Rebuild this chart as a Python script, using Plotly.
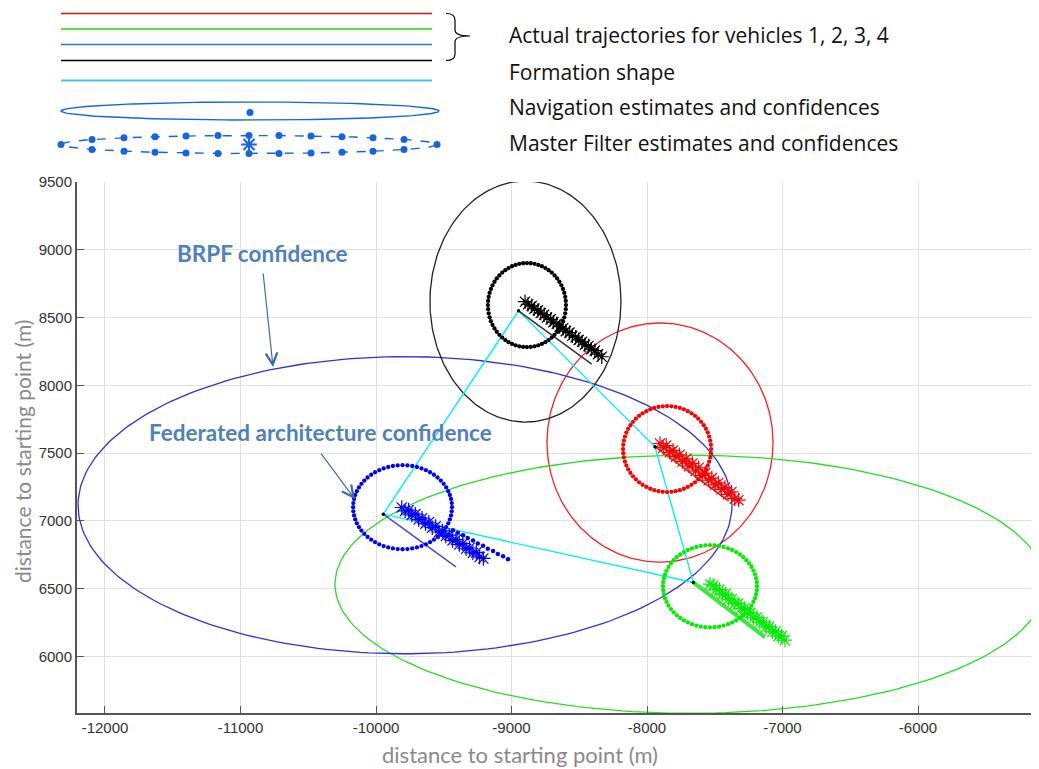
import numpy as np
import plotly.graph_objects as go

# reference image size and browser body offset (default 8px page margin)
W, H = 1039, 769
OFF = 8
WF, HF = W - OFF, H - OFF  # figure size so that the plot lands where the reference has it

# ---------------- data ----------------
x_ticks = [-12000, -11000, -10000, -9000, -8000, -7000, -6000]
x_tick_text = ["-12000", "-11000", "-10000", "-9000", "-8000", "-7000", "-6000"]
y_ticks = [6000, 6500, 7000, 7500, 8000, 8500, 9000, 9500]
y_tick_text = ["6000", "6500", "7000", "7500", "8000", "8500", "9000", "9500"]

vehicle_names = ["vehicle 1", "vehicle 2", "vehicle 3", "vehicle 4"]  # red, green, blue, black

# formation shape (navigation start points), closed polygon
form_x = [-9946, -8948, -7941, -7658, -9946]
form_y = [7050, 8550, 7547, 6546, 7050]

# actual trajectories (start, end)
traj_x = [[-7941, -7406], [-7658, -7129], [-9946, -9410], [-8948, -8408]]
traj_y = [[7547, 7153], [6546, 6142], [7050, 6661], [8550, 8157]]

# big confidence ellipses (BRPF / navigation): centre and semi-axes
big_cx = [-7904, -7683, -9786, -8897]
big_cy = [7578, 6533, 7116, 8618]
big_a = [834, 2620, 2413, 705]
big_b = [882, 952, 1096, 889]

# federated (master filter) confidence: centre and semi-axes
small_cx = [-7852, -7535, -9804, -8886]
small_cy = [7530, 6518, 7101, 8592]
small_rx = [325, 347, 365, 288]
small_ry = [317, 303, 310, 310]

# master filter estimates (asterisks)
red_star_x = [-7904, -7880, -7858, -7831, -7808, -7786, -7760, -7738, -7711, -7690, -7665, -7641, -7618,
              -7592, -7570, -7545, -7522, -7497, -7474, -7450, -7425, -7402, -7377, -7352, -7325]
red_star_y = [7571, 7540, 7556, 7506, 7520, 7474, 7488, 7438, 7458, 7404, 7424, 7368, 7392,
              7336, 7352, 7300, 7316, 7266, 7280, 7232, 7246, 7196, 7214, 7164, 7153]
green_star_x = [-7535, -7512, -7489, -7466, -7443, -7420, -7397, -7374, -7351, -7328, -7305, -7282, -7259,
                -7236, -7213, -7190, -7167, -7144, -7121, -7098, -7075, -7052, -7029, -7006, -6982]
green_star_y = [6533, 6524, 6492, 6494, 6458, 6460, 6422, 6424, 6390, 6390, 6354, 6356, 6320,
                6322, 6286, 6288, 6252, 6254, 6218, 6220, 6182, 6184, 6150, 6150, 6120]
blue_star_x = [-9810, -9785, -9760, -9735, -9710, -9685, -9660, -9635, -9610, -9585, -9560, -9535, -9510,
               -9485, -9460, -9435, -9410, -9385, -9360, -9335, -9310, -9285, -9260, -9235, -9208]
blue_star_y = [7099, 7074, 7080, 7044, 7050, 7010, 7020, 6980, 6990, 6950, 6960, 6918, 6926,
               6888, 6895, 6856, 6862, 6826, 6832, 6794, 6800, 6764, 6768, 6734, 6723]
black_star_x = [-8900, -8878, -8851, -8831, -8805, -8784, -8759, -8738, -8711, -8691, -8666, -8644, -8619,
                -8599, -8572, -8551, -8527, -8504, -8479, -8458, -8432, -8411, -8385, -8361, -8334]
black_star_y = [8617, 8598, 8586, 8566, 8553, 8533, 8521, 8500, 8487, 8466, 8454, 8433, 8421,
                8400, 8389, 8366, 8355, 8335, 8321, 8300, 8290, 8267, 8256, 8230, 8211]

# blue navigation estimates trailing beyond the asterisks
blue_nav_x = [-9432, -9396, -9357, -9323, -9284, -9249, -9210, -9175, -9136, -9101, -9062, -9026]
blue_nav_y = [6932, 6912, 6895, 6873, 6856, 6834, 6817, 6795, 6778, 6756, 6739, 6718]

legend_texts = ["Actual trajectories for vehicles 1, 2, 3, 4", "Formation shape",
                "Navigation estimates and confidences", "Master Filter estimates and confidences"]

# ---------------- styles ----------------
COL = ["#ff0000", "#00ee00", "#0000ff", "#000000"]
BIG_COL = ["#ff2020", "#22e022", "#3030e0", "#222222"]
TRAJ_COL = ["#ff0000", "#33ee33", "#4a4ad8", "#333333"]
TRAJ_W = [1.5, 4, 1.5, 1.5]
ANNOT_COL = "#4f81bd"
ARROW_COL = "#3e6ba8"
AX_COL = "#555555"
GRID_COL = "#e0e0e0"

x_range = [-12206.6, -5107]
y_range = [5583, 9500]


def px(xp):  # reference pixel x -> paper
    return (xp - OFF) / WF


def py(yp):  # reference pixel y -> paper
    return (HF - (yp - OFF)) / HF


x_dom = [px(77), 1]
y_dom = [py(713), py(182)]


def ellipse(cx, cy, a, b, n=240):
    t = np.linspace(0, 2 * np.pi, n)
    return cx + a * np.cos(t), cy + b * np.sin(t)


fig = go.Figure()

# big ellipses
for i in range(4):
    ex, ey = ellipse(big_cx[i], big_cy[i], big_a[i], big_b[i])
    fig.add_trace(go.Scatter(x=ex, y=ey, mode="lines", line=dict(color=BIG_COL[i], width=1.3),
                             showlegend=False, hoverinfo="skip"))

# formation shape
fig.add_trace(go.Scatter(x=form_x, y=form_y, mode="lines", line=dict(color="#00f0ff", width=1.4),
                         showlegend=False, hoverinfo="skip"))

# trajectories
for i in range(4):
    fig.add_trace(go.Scatter(x=traj_x[i], y=traj_y[i], mode="lines",
                             line=dict(color=TRAJ_COL[i], width=TRAJ_W[i]),
                             showlegend=False, hoverinfo="skip"))

# dotted federated confidence circles
for i in range(4):
    ex, ey = ellipse(small_cx[i], small_cy[i], small_rx[i], small_ry[i], n=65)
    fig.add_trace(go.Scatter(x=ex[:-1], y=ey[:-1], mode="markers",
                             marker=dict(color=COL[i], size=4.3, symbol="circle"),
                             showlegend=False, hoverinfo="skip"))

# blue navigation dots
fig.add_trace(go.Scatter(x=blue_nav_x, y=blue_nav_y, mode="markers",
                         marker=dict(color="#0000ff", size=4.5), showlegend=False, hoverinfo="skip"))

# asterisks
stars = [(red_star_x, red_star_y), (green_star_x, green_star_y),
         (blue_star_x, blue_star_y), (black_star_x, black_star_y)]
for i, (sx, sy) in enumerate(stars):
    fig.add_trace(go.Scatter(x=sx, y=sy, mode="markers",
                             marker=dict(symbol="asterisk-open", size=12, color=COL[i],
                                         line=dict(color=COL[i], width=1.2)),
                             showlegend=False, hoverinfo="skip"))

# start points
fig.add_trace(go.Scatter(x=form_x[:4], y=form_y[:4], mode="markers",
                         marker=dict(color="#000000", size=3.5), showlegend=False, hoverinfo="skip"))

# ---------------- legend drawing (top area, axes in reference pixels) ----------------
LEG_BLUE = "#1464e6"
leg_lines_y = [13.5, 29, 44.5, 60.5, 80.5]
leg_lines_c = ["#d41010", "#55e83c", "#3a6fc4", "#000000", "#45c3f2"]
leg_lines_w = [1.4, 2, 1.4, 1.4, 2]
for yy, cc, ww in zip(leg_lines_y, leg_lines_c, leg_lines_w):
    fig.add_trace(go.Scatter(x=[61, 432], y=[yy, yy], mode="lines", line=dict(color=cc, width=ww),
                             xaxis="x2", yaxis="y2", showlegend=False, hoverinfo="skip"))

t = np.linspace(0, 2 * np.pi, 200)
fig.add_trace(go.Scatter(x=250 + 189 * np.cos(t), y=111 + 9 * np.sin(t), mode="lines",
                         line=dict(color=LEG_BLUE, width=1.4), xaxis="x2", yaxis="y2",
                         showlegend=False, hoverinfo="skip"))
fig.add_trace(go.Scatter(x=[250], y=[112.5], mode="markers", marker=dict(color=LEG_BLUE, size=7),
                         xaxis="x2", yaxis="y2", showlegend=False, hoverinfo="skip"))
fig.add_trace(go.Scatter(x=249 + 188 * np.cos(t), y=144.5 + 9 * np.sin(t), mode="lines",
                         line=dict(color=LEG_BLUE, width=1.4, dash="dash"), xaxis="x2", yaxis="y2",
                         showlegend=False, hoverinfo="skip"))
dxs = np.array([92, 124, 155, 186, 218, 249, 279, 311, 342, 373, 404])
dys = 9 * np.sqrt(np.clip(1 - ((dxs - 249) / 188) ** 2, 0, 1))
fig.add_trace(go.Scatter(x=np.concatenate([[61], dxs, [437], dxs]),
                         y=np.concatenate([[144.5], 144.5 - dys, [144.5], 144.5 + dys]),
                         mode="markers", marker=dict(color=LEG_BLUE, size=7),
                         xaxis="x2", yaxis="y2", showlegend=False, hoverinfo="skip"))
fig.add_trace(go.Scatter(x=[249], y=[144.5], mode="markers",
                         marker=dict(symbol="asterisk-open", size=13, color=LEG_BLUE,
                                     line=dict(color=LEG_BLUE, width=2)),
                         xaxis="x2", yaxis="y2", showlegend=False, hoverinfo="skip"))

shapes = [dict(type="path", xref="x2", yref="y2",
               path="M 446,13.5 Q 455,13.5 455,20 L 455,30 Q 455,36 470,36 Q 455,36 455,42 "
                    "L 455,54 Q 455,60.5 446,60.5",
               line=dict(color="#000000", width=1.2))]

annotations = []
for txt, yy in zip(legend_texts, [35, 72, 107, 143]):
    annotations.append(dict(x=507, y=yy, xref="x2", yref="y2", text=txt, showarrow=False,
                            xanchor="left", yanchor="middle",
                            font=dict(family="Open Sans", size=21, color="#111111")))

# callouts
annotations.append(dict(x=-10838, y=8976, xref="x", yref="y", text="<b>BRPF confidence</b>",
                        showarrow=False, font=dict(family="Lato", size=22.5, color=ANNOT_COL)))
annotations.append(dict(x=-10760, y=8135, xref="x", yref="y", text="", showarrow=True,
                        ax=-10, ay=-95, arrowhead=5, arrowsize=1.9, arrowwidth=1.2,
                        arrowcolor=ARROW_COL))
annotations.append(dict(x=-10413, y=7655, xref="x", yref="y",
                        text="<b>Federated architecture confidence</b>",
                        showarrow=False, font=dict(family="Lato", size=22.5, color=ANNOT_COL)))
annotations.append(dict(x=-10155, y=7160, xref="x", yref="y", text="", showarrow=True,
                        ax=-35, ay=-47, arrowhead=5, arrowsize=1.9, arrowwidth=1.2,
                        arrowcolor=ARROW_COL))

# axis titles
annotations.append(dict(x=px(520), y=py(754), xref="paper", yref="paper",
                        text="distance to starting point (m)", showarrow=False,
                        xanchor="center", yanchor="middle",
                        font=dict(family="Lato", size=22, color="#8a8a8a")))
annotations.append(dict(x=px(23), y=py(452), xref="paper", yref="paper",
                        text="distance to starting point (m)", showarrow=False, textangle=-90,
                        xanchor="center", yanchor="middle",
                        font=dict(family="Lato", size=21, color="#8a8a8a")))

axis_common = dict(showline=True, linecolor=AX_COL, linewidth=2, ticks="inside", ticklen=7,
                   tickcolor=AX_COL, tickwidth=1, showgrid=True, gridcolor=GRID_COL, gridwidth=1,
                   zeroline=False, automargin=False,
                   tickfont=dict(family="Liberation Sans, Arial", size=15, color="#333333"))

fig.update_layout(
    template="none",
    width=WF, height=HF, autosize=False,
    margin=dict(l=0, r=0, t=0, b=0, pad=0),
    paper_bgcolor="white", plot_bgcolor="white",
    showlegend=False,
    xaxis=dict(range=x_range, domain=x_dom, tickvals=x_ticks, ticktext=x_tick_text,
               anchor="y", **axis_common),
    yaxis=dict(range=y_range, domain=y_dom, tickvals=y_ticks, ticktext=y_tick_text,
               anchor="x", **axis_common),
    xaxis2=dict(range=[OFF, W], domain=[0, 1], anchor="y2", visible=False, fixedrange=True),
    yaxis2=dict(range=[182, OFF], domain=[py(182), 1], anchor="x2", visible=False,
                fixedrange=True),
    shapes=shapes,
    annotations=annotations,
)

fig.write_html("out.html")
